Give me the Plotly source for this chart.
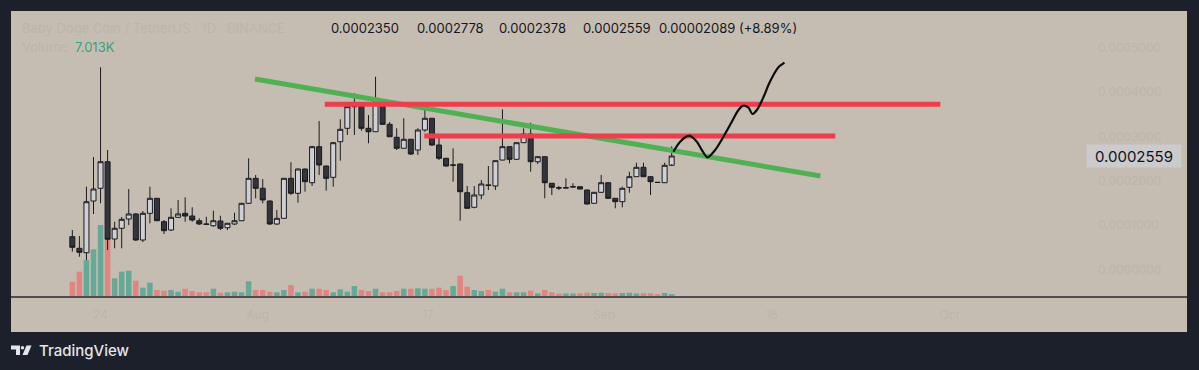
import plotly.graph_objects as go

# ---------------- data ----------------
idx = list(range(86))

open_ = [0.0000738, 0.0000476, 0.0000377, 0.0001544, 0.0001831, 0.0002431, 0.0000686, 0.0000928, 0.0001138, 0.0001251,
         0.0000664, 0.0001266, 0.0001605, 0.0001077, 0.0000889, 0.0001176, 0.0001266, 0.0001205, 0.0001099, 0.0001025,
         0.0000986, 0.0001093, 0.0000941, 0.0001025, 0.0001099, 0.0001492, 0.0002056, 0.0001831, 0.0001544, 0.0001025,
         0.0001153, 0.0002056, 0.0001718, 0.0002266, 0.0001957, 0.0002770, 0.0002334, 0.0002079, 0.0002883, 0.0003185,
         0.0003673, 0.0003711, 0.0003185, 0.0003108, 0.0003786, 0.0003275, 0.0002982, 0.0002734, 0.0002937, 0.0002695,
         0.0003147, 0.0003411, 0.0002808, 0.0002508, 0.0002350, 0.0002379, 0.0001731, 0.0001402, 0.0001679, 0.0001905,
         0.0001883, 0.0002469, 0.0002770, 0.0002485, 0.0002860, 0.0003056, 0.0002431, 0.0002544, 0.0001944, 0.0001844,
         0.0001837, 0.0001860, 0.0001867, 0.0001792, 0.0001492, 0.0001740, 0.0001957, 0.0001605, 0.0001528, 0.0001853,
         0.0002093, 0.0002305, 0.0002093, 0.0001966, 0.0001957, 0.0002350]
high = [0.0000889, 0.0000754, 0.0001867, 0.0002537, 0.0004562, 0.0002695, 0.0001077, 0.0001183, 0.0001815, 0.0001273,
        0.0001318, 0.0001867, 0.0001612, 0.0001115, 0.0001379, 0.0001567, 0.0001628, 0.0001402, 0.0001153, 0.0001190,
        0.0001325, 0.0001212, 0.0001047, 0.0001280, 0.0001499, 0.0002508, 0.0002131, 0.0002041, 0.0001555, 0.0001341,
        0.0002063, 0.0002418, 0.0002278, 0.0002278, 0.0002786, 0.0003350, 0.0002345, 0.0002876, 0.0003388, 0.0003688,
        0.0003975, 0.0003722, 0.0003485, 0.0004350, 0.0003840, 0.0003327, 0.0003185, 0.0003411, 0.0002944, 0.0003185,
        0.0003637, 0.0003418, 0.0002995, 0.0002515, 0.0002734, 0.0002390, 0.0001883, 0.0001883, 0.0002018, 0.0002334,
        0.0002458, 0.0003614, 0.0002774, 0.0002865, 0.0003185, 0.0003311, 0.0002548, 0.0002548, 0.0001950, 0.0001883,
        0.0002056, 0.0001944, 0.0001871, 0.0001804, 0.0001747, 0.0002131, 0.0001962, 0.0001612, 0.0001867, 0.0002205,
        0.0002409, 0.0002409, 0.0002097, 0.0001973, 0.0002409, 0.0002778]
low = [0.0000400, 0.0000287, 0.0000212, 0.0001251, 0.0001492, 0.0000438, 0.0000476, 0.0000476, 0.0001002, 0.0000641,
       0.0000618, 0.0001041, 0.0001093, 0.0000799, 0.0000867, 0.0001160, 0.0001077, 0.0001077, 0.0001002, 0.0001014,
       0.0000964, 0.0000889, 0.0000889, 0.0001002, 0.0001093, 0.0001476, 0.0001605, 0.0001492, 0.0001002, 0.0001002,
       0.0001138, 0.0001679, 0.0001506, 0.0001754, 0.0001883, 0.0002131, 0.0001777, 0.0001867, 0.0002454, 0.0003034,
       0.0003034, 0.0003131, 0.0002846, 0.0003102, 0.0003271, 0.0002989, 0.0002695, 0.0002729, 0.0002582, 0.0002582,
       0.0003108, 0.0002786, 0.0002469, 0.0002318, 0.0001980, 0.0001099, 0.0001375, 0.0001379, 0.0001582, 0.0001792,
       0.0001792, 0.0002458, 0.0002395, 0.0002481, 0.0002853, 0.0002205, 0.0002379, 0.0001605, 0.0001679, 0.0001792,
       0.0001826, 0.0001849, 0.0001808, 0.0001465, 0.0001488, 0.0001725, 0.0001600, 0.0001379, 0.0001402, 0.0001731,
       0.0002086, 0.0002086, 0.0001679, 0.0001957, 0.0001950, 0.0002378]
close = [0.0000499, 0.0000386, 0.0001528, 0.0001815, 0.0002431, 0.0000679, 0.0000928, 0.0001131, 0.0001251, 0.0000664,
         0.0001266, 0.0001605, 0.0001099, 0.0000874, 0.0001176, 0.0001251, 0.0001205, 0.0001115, 0.0001025, 0.0001018,
         0.0001099, 0.0000928, 0.0001041, 0.0001099, 0.0001492, 0.0002056, 0.0001831, 0.0001567, 0.0001025, 0.0001153,
         0.0002056, 0.0001718, 0.0002266, 0.0001980, 0.0002770, 0.0002357, 0.0002056, 0.0002860, 0.0003162, 0.0003673,
         0.0003711, 0.0003185, 0.0003108, 0.0003786, 0.0003275, 0.0002995, 0.0002734, 0.0002937, 0.0002605, 0.0003147,
         0.0003411, 0.0002808, 0.0002508, 0.0002334, 0.0002357, 0.0001754, 0.0001379, 0.0001679, 0.0001928, 0.0001898,
         0.0002454, 0.0002770, 0.0002485, 0.0002860, 0.0003056, 0.0002431, 0.0002544, 0.0001957, 0.0001853, 0.0001837,
         0.0001844, 0.0001867, 0.0001815, 0.0001476, 0.0001740, 0.0001957, 0.0001605, 0.0001528, 0.0001831, 0.0002093,
         0.0002305, 0.0002093, 0.0001980, 0.0001962, 0.0002350, 0.0002559]
volume = [50000, 85000, 126000, 163500, 248500, 196000, 62000, 85000, 88500, 53500,
          29000, 46500, 21000, 18500, 21000, 15000, 25500, 17500, 13000, 13000,
          25500, 11500, 13000, 15000, 13000, 51500, 21000, 21000, 15000, 13000,
          21000, 38500, 13000, 15000, 25500, 25500, 21000, 13000, 23500, 15000,
          35000, 21000, 17500, 25500, 13000, 13000, 17500, 25500, 25500, 27000,
          25500, 25500, 29000, 21000, 35000, 71000, 32500, 21000, 17500, 21000,
          15000, 25500, 13000, 13000, 13000, 18500, 9500, 21000, 13000, 8800,
          8800, 8800, 9500, 11500, 10500, 11500, 10500, 9500, 10500, 11500,
          8800, 10500, 9500, 7000, 10500, 7013]

# drawings (in bar-index / price units)
trend_x = [25.9, 106.1]
trend_y = [0.0004298, 0.0002108]
res_upper_x = [35.8, 123.1]
res_upper_y = [0.0003727, 0.0003727]
res_lower_x = [49.9, 108.2]
res_lower_y = [0.0003011, 0.0003011]
path_x = [85.25, 86.2, 87.52, 88.57, 89.28, 90.07, 91.16, 92.34, 93.53, 94.47,
          95.18, 95.89, 96.45, 97.08, 98.01, 98.72, 99.43, 100.14, 100.99]
path_y = [0.0002657, 0.0002883, 0.0003018, 0.0002883, 0.0002695, 0.0002530, 0.0002695, 0.0002995, 0.0003334, 0.0003598,
          0.0003695, 0.0003650, 0.0003508, 0.0003598, 0.0003885, 0.0004162, 0.0004388, 0.0004562, 0.0004666]

price_ticks = [0.0, 0.0001, 0.0002, 0.0003, 0.0004, 0.0005]
price_tick_text = ["0.0000000", "0.0001000", "0.0002000", "0.0003000", "0.0004000", "0.0005000"]
time_ticks = [4, 26.3, 50.4, 75.4, 99.2, 124.4]
time_tick_text = ["24", "Aug", "17", "Sep", "16", "Oct"]

ohlc_text = ["0.0002350", "0.0002778", "0.0002378", "0.0002559", "0.00002089 (+8.89%)"]
last_price_text = "0.0002559"
volume_text = "7.013K"

# ---------------- style ----------------
BG = "#c5bdb2"
NAVY = "#1c202b"
FAINT = "#bcb5ac"
UP_FILL = "#cfd0d6"
DOWN_FILL = "#33343c"
EDGE = "#1b1b1f"
VOL_UP = "#67a997"
VOL_DOWN = "#e2847f"
GREEN = "#4fb154"
RED = "#ef3d4d"
FONT = "Inter"

W, H = 1199, 370
L, R, T, B = 11, 1087, 11, 297


def px(x):
    return (x - L) / (R - L)


def py(y):
    return (B - y) / (B - T)


vol_colors = [VOL_UP if c >= o else VOL_DOWN for o, c in zip(open_, close)]

fig = go.Figure()
fig.add_trace(go.Bar(x=idx, y=volume, marker=dict(color=vol_colors, line=dict(width=0)),
                     yaxis="y", showlegend=False, hoverinfo="skip"))
fig.add_trace(go.Candlestick(x=idx, open=open_, high=high, low=low, close=close, yaxis="y2",
                             increasing=dict(fillcolor=UP_FILL, line=dict(color=EDGE, width=1)),
                             decreasing=dict(fillcolor=DOWN_FILL, line=dict(color=EDGE, width=1)),
                             showlegend=False, whiskerwidth=0))
fig.add_trace(go.Scatter(x=trend_x, y=trend_y, yaxis="y2", mode="lines",
                         line=dict(color=GREEN, width=5), showlegend=False, hoverinfo="skip"))
fig.add_trace(go.Scatter(x=res_upper_x, y=res_upper_y, yaxis="y2", mode="lines",
                         line=dict(color=RED, width=5), showlegend=False, hoverinfo="skip"))
fig.add_trace(go.Scatter(x=res_lower_x, y=res_lower_y, yaxis="y2", mode="lines",
                         line=dict(color=RED, width=5), showlegend=False, hoverinfo="skip"))
fig.add_trace(go.Scatter(x=path_x, y=path_y, yaxis="y2", mode="lines",
                         line=dict(color="#0d0d0d", width=2.2, shape="spline", smoothing=0.8),
                         showlegend=False, hoverinfo="skip"))

shapes = [
    dict(type="rect", xref="paper", yref="paper", x0=px(11), x1=px(1187), y0=py(332), y1=py(11),
         fillcolor=BG, line=dict(width=0), layer="below"),
    dict(type="line", xref="paper", yref="paper", x0=px(11), x1=px(1187), y0=py(297), y1=py(297),
         line=dict(color="#2b2a2c", width=1.5)),
    # TradingView logo
    dict(type="path", xref="paper", yref="paper",
         path=f"M {px(11)},{py(345.5)} L {px(20)},{py(345.5)} L {px(20)},{py(355)} L {px(16)},{py(355)} "
              f"L {px(16)},{py(349.5)} L {px(11)},{py(349.5)} Z",
         fillcolor="#e3e5ea", line=dict(width=0)),
    dict(type="circle", xref="paper", yref="paper", x0=px(20.8), x1=px(24.2), y0=py(349.4), y1=py(346),
         fillcolor="#e3e5ea", line=dict(width=0)),
    dict(type="path", xref="paper", yref="paper",
         path=f"M {px(26.5)},{py(345.5)} L {px(31.5)},{py(345.5)} L {px(27.5)},{py(355)} L {px(22.5)},{py(355)} Z",
         fillcolor="#e3e5ea", line=dict(width=0)),
]

ann = []
ohlc_left = [329.3, 415, 496.7, 581, 656.7]
for t, xl in zip(ohlc_text, ohlc_left):
    ann.append(dict(xref="paper", yref="paper", x=px(xl), y=py(28.3), text=t, showarrow=False,
                    xanchor="left", yanchor="middle", font=dict(family=FONT, size=13, color="#16171c")))
ann.append(dict(xref="paper", yref="paper", x=px(20), y=py(28.3),
                text="Baby Doge Coin / TetherUS · 1D · BINANCE", showarrow=False,
                xanchor="left", yanchor="middle", font=dict(family=FONT, size=13, color=FAINT)))
ann.append(dict(xref="paper", yref="paper", x=px(20), y=py(46.7), text="Volume", showarrow=False,
                xanchor="left", yanchor="middle", font=dict(family=FONT, size=13, color=FAINT)))
ann.append(dict(xref="paper", yref="paper", x=px(72.7), y=py(46.7), text=volume_text, showarrow=False,
                xanchor="left", yanchor="middle", font=dict(family=FONT, size=13, color="#3a9f84")))
ann.append(dict(xref="paper", yref="y2", x=px(1086), y=close[-1], text=last_price_text, showarrow=False,
                xanchor="left", yanchor="middle", width=92, height=20, align="center",
                bgcolor="#cbcacd", borderpad=1,
                font=dict(family=FONT, size=15, color="#111216")))
ann.append(dict(xref="paper", yref="paper", x=px(36.5), y=py(350.5), text="TradingView", showarrow=False,
                xanchor="left", yanchor="middle",
                font=dict(family=FONT, size=15, color="#e3e5ea", weight=500)))

fig.update_layout(
    width=W, height=H,
    margin=dict(l=L, r=W - R, t=T, b=H - B, autoexpand=False),
    paper_bgcolor=NAVY, plot_bgcolor=BG,
    barmode="overlay", bargap=0.22, boxgap=0.29, boxgroupgap=0,
    shapes=shapes, annotations=ann,
    showlegend=False,
    xaxis=dict(range=[-8.7, 143.9], showgrid=False, zeroline=False, showline=False,
               rangeslider=dict(visible=False), tickvals=time_ticks, ticktext=time_tick_text,
               ticks="", ticklabelstandoff=9, tickfont=dict(family=FONT, size=12, color=FAINT)),
    yaxis=dict(range=[-3500, 997500], visible=False, fixedrange=True),
    yaxis2=dict(range=[-0.0000623, 0.0005833], overlaying="y", side="right", showgrid=False,
                zeroline=False, showline=False, tickvals=price_ticks, ticktext=price_tick_text,
                ticks="", ticklabelstandoff=10, tickfont=dict(family=FONT, size=12, color=FAINT)),
)

fig.write_html("out.html", config={"displayModeBar": False},
               post_script="document.body.style.margin='0';document.body.style.background='#1c202b';")
